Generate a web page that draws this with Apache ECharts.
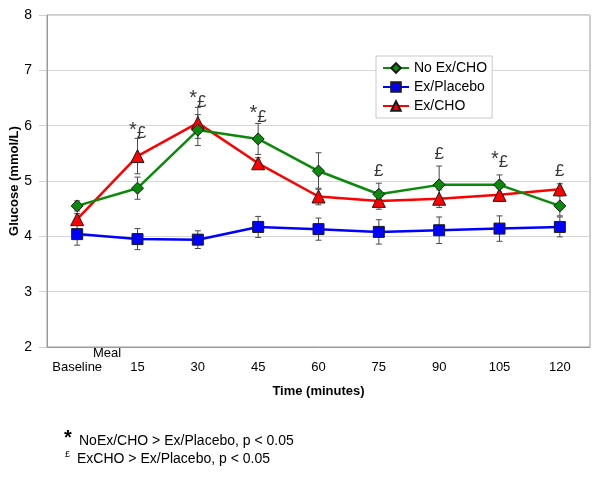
<!DOCTYPE html>
<html>
<head>
<meta charset="utf-8">
<script src="https://cdn.jsdelivr.net/npm/echarts@6/dist/echarts.min.js"></script>
<style>
  html, body { margin: 0; padding: 0; background: #fff; }
  #main { width: 600px; height: 477px; }
</style>
</head>
<body>
<div id="main"></div>
<script>
// time points (minutes after meal)
var categories = ['Baseline', '15', '30', '45', '60', '75', '90', '105', '120'];

// mean glucose, mmol/L
var noExCho   = [4.55, 4.87, 5.92, 5.76, 5.18, 4.76, 4.93, 4.93, 4.55];
var exPlacebo = [4.04, 3.95, 3.94, 4.17, 4.13, 4.08, 4.11, 4.14, 4.17];
var exCho     = [4.31, 5.45, 6.05, 5.32, 4.72, 4.64, 4.68, 4.75, 4.85];

// error bar half-widths
var errNoExCho   = [0.09, 0.20, 0.28, 0.28, 0.33, 0.20, 0.34, 0.18, 0.18];
var errExPlacebo = [0.20, 0.19, 0.16, 0.19, 0.20, 0.22, 0.24, 0.23, 0.18];
var errExCho     = [0.10, 0.32, 0.28, 0.10, 0.15, 0.15, 0.16, 0.12, 0.10];

// significance marks and the level they sit at
var sigMarks  = ['', '*£', '*£', '*£', '', '£', '£', '*£', '£'];
var sigLevels = [0, 5.86, 6.43, 6.16, 0, 5.18, 5.49, 5.34, 5.18];

var yTicks = [2, 3, 4, 5, 6, 7, 8];

var GREEN = '#0a8a0a', BLUE = '#0000ff', RED = '#ff0000';
var FONT = '"Liberation Sans", Arial, sans-serif';

function errData(means, errs) {
    return means.map(function (m, i) { return [i, m - errs[i], m + errs[i]]; });
}

function renderErr(params, api) {
    var x = api.value(0);
    var lo = api.coord([x, api.value(1)]);
    var hi = api.coord([x, api.value(2)]);
    var cap = 3;
    var style = { stroke: '#4a4a4a', lineWidth: 1 };
    return {
        type: 'group',
        children: [
            { type: 'line', shape: { x1: lo[0], y1: lo[1], x2: hi[0], y2: hi[1] }, style: style },
            { type: 'line', shape: { x1: lo[0] - cap, y1: lo[1], x2: lo[0] + cap, y2: lo[1] }, style: style },
            { type: 'line', shape: { x1: hi[0] - cap, y1: hi[1], x2: hi[0] + cap, y2: hi[1] }, style: style }
        ]
    };
}

function errSeries(means, errs) {
    return {
        type: 'custom',
        renderItem: renderErr,
        data: errData(means, errs),
        z: 1,
        silent: true,
        encode: { x: 0, y: [1, 2] }
    };
}

var sigData = [];
for (var i = 0; i < categories.length; i++) {
    if (sigMarks[i]) sigData.push({ value: [i, sigLevels[i]], mark: sigMarks[i] });
}

var myChart = echarts.init(document.getElementById('main'));
var option = {
    backgroundColor: '#fff',
    animation: false,
    textStyle: { fontFamily: FONT },
    grid: {
        left: 47, right: 10, top: 15, bottom: 130,
        outerBoundsMode: 'none', containLabel: false,
        show: true, borderColor: '#9a9a9a', borderWidth: 1
    },
    legend: {
        orient: 'vertical',
        left: 376, top: 56,
        padding: [5, 5, 5, 6],
        itemGap: 5,
        itemWidth: 26, itemHeight: 12,
        borderColor: '#c8c8c8', borderWidth: 1,
        backgroundColor: '#fff',
        textStyle: { fontSize: 14, color: '#000', fontFamily: FONT },
        data: ['No Ex/CHO', 'Ex/Placebo', 'Ex/CHO']
    },
    xAxis: {
        type: 'category',
        data: categories,
        boundaryGap: true,
        name: 'Time (minutes)',
        nameLocation: 'middle',
        nameGap: 38,
        nameMoveOverlap: false,
        nameTextStyle: { fontSize: 13, fontWeight: 'bold', color: '#000', fontFamily: FONT },
        axisLine: { lineStyle: { color: '#9a9a9a' } },
        axisTick: { alignWithLabel: false, interval: 0, length: 5, lineStyle: { color: '#9a9a9a' } },
        axisLabel: { interval: 0, fontSize: 13, color: '#000', margin: 14, fontFamily: FONT },
        splitLine: { show: false }
    },
    yAxis: {
        type: 'value',
        min: yTicks[0], max: yTicks[yTicks.length - 1], interval: 1,
        name: 'Glucose (mmol/L)',
        nameLocation: 'middle',
        nameGap: 26,
        nameMoveOverlap: false,
        nameTextStyle: { fontSize: 13, fontWeight: 'bold', color: '#000', fontFamily: FONT },
        axisLine: { show: true, lineStyle: { color: '#9a9a9a' } },
        axisTick: { show: true, length: 8, lineStyle: { color: '#cfcfcf' } },
        axisLabel: { fontSize: 14, color: '#000', margin: 15, fontFamily: FONT },
        splitLine: { lineStyle: { color: '#d6d6d6' } }
    },
    graphic: [
        { type: 'text', left: 93, top: 347, style: { text: 'Meal', fontSize: 13, fill: '#000', fontFamily: FONT } },
        { type: 'text', left: 64, top: 428, style: { text: '*', fontSize: 20, fontWeight: 'bold', fill: '#000', fontFamily: FONT } },
        { type: 'text', left: 79, top: 434, style: { text: 'NoEx/CHO > Ex/Placebo, p < 0.05', fontSize: 14, fill: '#000', fontFamily: FONT } },
        { type: 'text', left: 65, top: 450, style: { text: '£', fontSize: 9, fill: '#000', fontFamily: FONT } },
        { type: 'text', left: 77, top: 452, style: { text: 'ExCHO > Ex/Placebo, p < 0.05', fontSize: 14, fill: '#000', fontFamily: FONT } }
    ],
    series: [
        errSeries(noExCho, errNoExCho),
        errSeries(exPlacebo, errExPlacebo),
        errSeries(exCho, errExCho),
        {
            name: 'No Ex/CHO', type: 'line', data: noExCho, z: 4,
            symbol: 'diamond', symbolSize: 12,
            lineStyle: { color: GREEN, width: 2.5 },
            itemStyle: { color: GREEN, borderColor: '#1a1a1a', borderWidth: 1 }
        },
        {
            name: 'Ex/Placebo', type: 'line', data: exPlacebo, z: 3,
            symbol: 'rect', symbolSize: 11,
            lineStyle: { color: BLUE, width: 2.5 },
            itemStyle: { color: BLUE, borderColor: '#1a1a1a', borderWidth: 1 }
        },
        {
            name: 'Ex/CHO', type: 'line', data: exCho, z: 3,
            symbol: 'triangle', symbolSize: 13,
            lineStyle: { color: RED, width: 2.5 },
            itemStyle: { color: RED, borderColor: '#1a1a1a', borderWidth: 1 }
        },
        {
            type: 'scatter', data: sigData, symbolSize: 0, silent: true, z: 5,
            label: {
                show: true, position: 'inside',
                formatter: function (p) {
                    var m = p.data.mark;
                    return m.length > 1 ? '{a|*}{b|£}' : '{b|£}';
                },
                rich: {
                    a: { fontSize: 20, color: '#000', fontFamily: FONT, padding: [0, 0, 6, 0] },
                    b: { fontSize: 17, color: '#000', fontFamily: FONT }
                }
            }
        }
    ]
};
myChart.setOption(option);
</script>
</body>
</html>
